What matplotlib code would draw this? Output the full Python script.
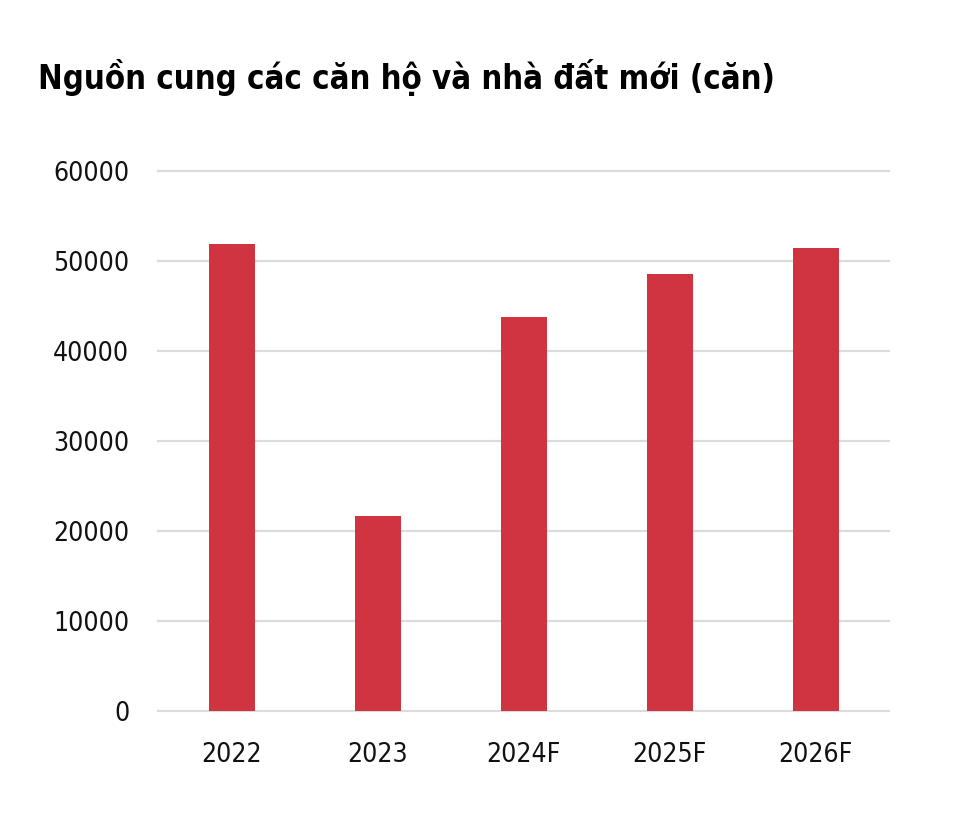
import matplotlib
matplotlib.use("Agg")
import matplotlib.pyplot as plt
from matplotlib import font_manager

# Du lieu
nam = ["2022", "2023", "2024F", "2025F", "2026F"]
nguon_cung = [51900, 21700, 43700, 48500, 51400]
y_ticks = [0, 10000, 20000, 30000, 40000, 50000, 60000]

# font hep neu co
ten_font = {f.name for f in font_manager.fontManager.ttflist}
if "Liberation Sans Narrow" in ten_font:
    plt.rcParams['font.family'] = ['Liberation Sans Narrow', 'DejaVu Sans']
    co_gian = 'normal'
else:
    plt.rcParams['font.family'] = ['DejaVu Sans']
    co_gian = 'condensed'

fig = plt.figure(figsize=(9.74, 8.18), dpi=100)
ax = fig.add_axes([0.1627, 0.1308, 0.75, 0.6605])

x = range(len(nam))
ax.bar(x, nguon_cung, width=0.315, color='#D13441', zorder=3)

ax.set_xlim(-0.5, len(nam) - 0.5)
ax.set_ylim(0, 60000)
ax.set_yticks(y_ticks)
ax.set_yticklabels([str(v) for v in y_ticks], fontsize=19, stretch=co_gian, color='#111111')
ax.set_xticks(list(x))
ax.set_xticklabels(nam, fontsize=19, stretch=co_gian, color='#111111')

ax.grid(axis='y', color='#DCDCDC', linewidth=1.6, zorder=0)
for gl in ax.get_ygridlines():
    gl.set_clip_on(False)
ax.tick_params(axis='both', length=0)
ax.tick_params(axis='y', pad=21)
ax.tick_params(axis='x', pad=22)
for s in ax.spines.values():
    s.set_visible(False)

fig.text(38 / 974, 1 - 89 / 818, "Nguồn cung các căn hộ và nhà đất mới (căn)",
         fontsize=23.6, fontweight='bold', stretch=co_gian, va='baseline', ha='left')

fig.savefig("out.png", dpi=100)
